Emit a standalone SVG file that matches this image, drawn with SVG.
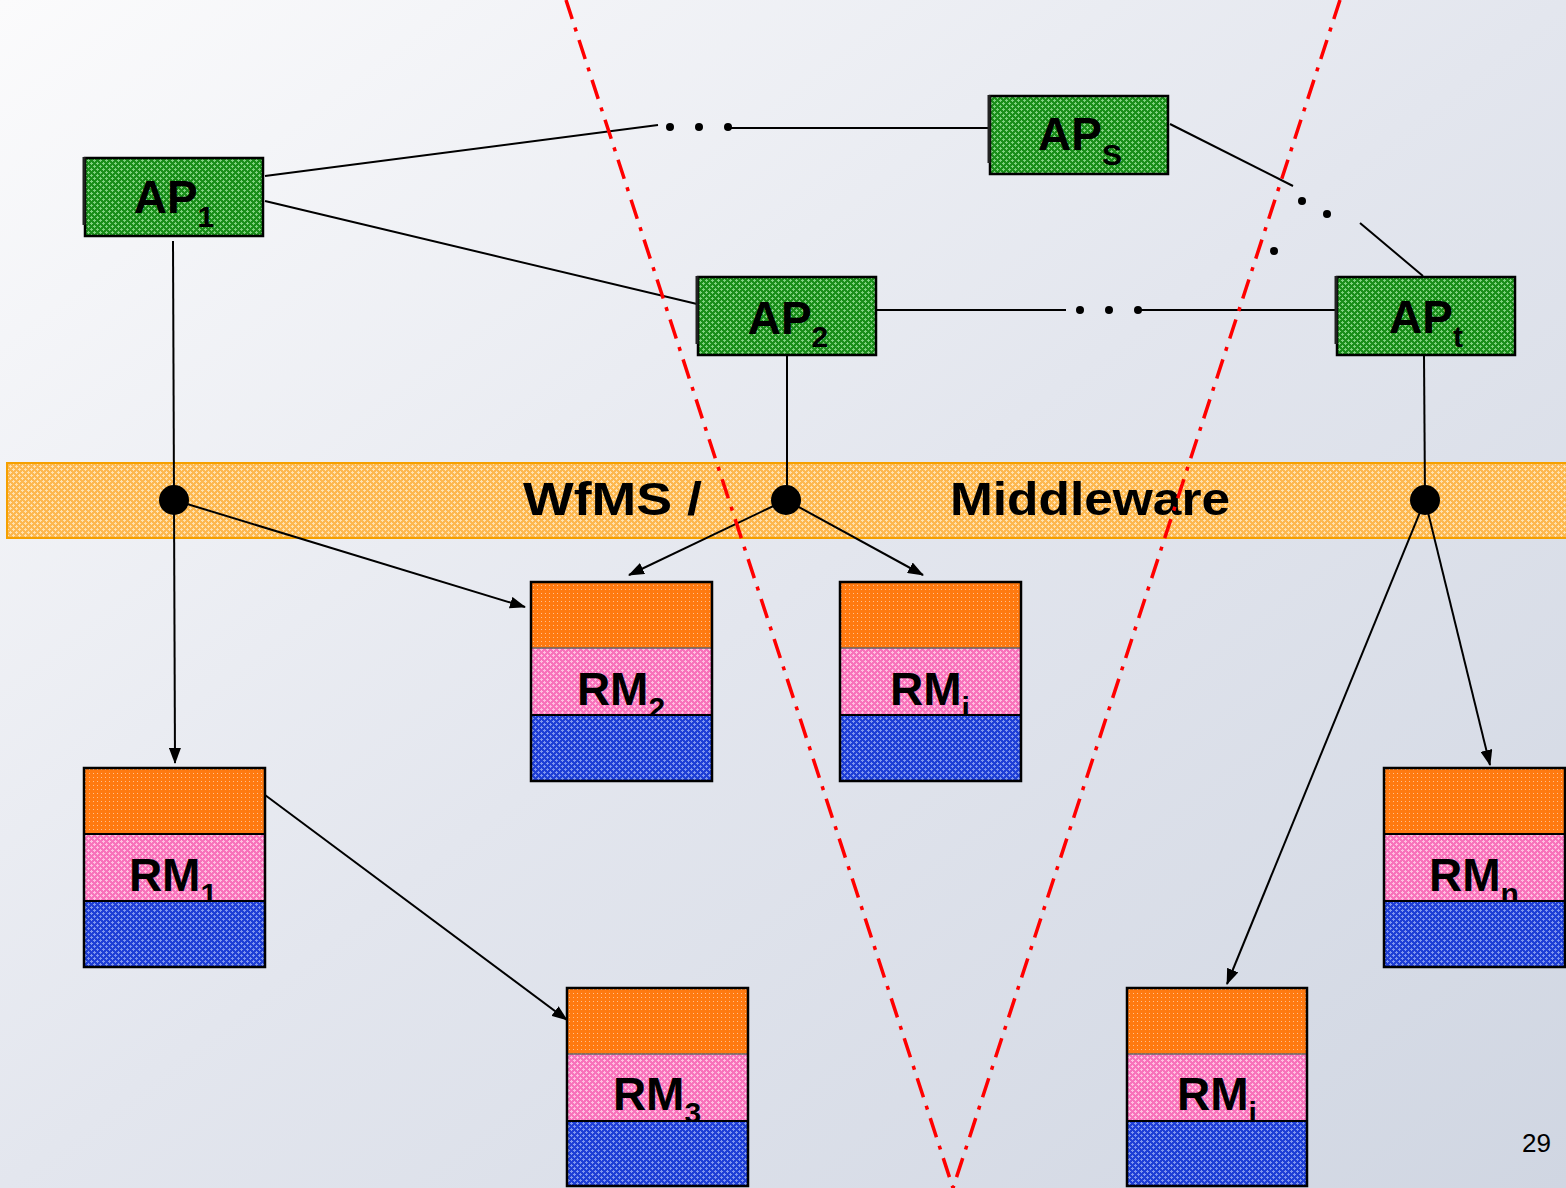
<svg xmlns="http://www.w3.org/2000/svg" width="1566" height="1188" viewBox="0 0 1566 1188">
<style>
.lbl{font-family:"Liberation Sans","Arial",sans-serif;font-weight:bold;font-size:46px;fill:#000}
.sub{font-size:30px}
.box{stroke:#000;stroke-width:2.5}
.ln{stroke:#000;stroke-width:2;fill:none}
.dot{fill:#000}
.red{stroke:#ff0000;stroke-width:3.5;fill:none;stroke-dasharray:20 9 4 9}
</style>
<defs>
<linearGradient id="bg" x1="0" y1="0" x2="1" y2="1">
<stop offset="0" stop-color="#fbfbfc"/>
<stop offset="0.5" stop-color="#e3e6ee"/>
<stop offset="1" stop-color="#d0d6e2"/>
</linearGradient>
<pattern id="pg" width="6" height="6" patternUnits="userSpaceOnUse">
<rect width="6" height="6" fill="#1a8e1a"/>
<path d="M1 0h1v3H1zM0 1h3v1H0zM4 3h1v3H4zM3 4h3v1H3z" fill="#7fd07f"/>
</pattern>
<pattern id="po" width="4" height="4" patternUnits="userSpaceOnUse">
<rect width="4" height="4" fill="#ff7a10"/>
<rect x="1" y="1" width="1" height="1" fill="#ffc090"/>
</pattern>
<pattern id="pp" width="6" height="6" patternUnits="userSpaceOnUse">
<rect width="6" height="6" fill="#f873bb"/>
<path d="M1 0h1v3H1zM0 1h3v1H0zM4 3h1v3H4zM3 4h3v1H3z" fill="#ffc0e0"/>
</pattern>
<pattern id="pb" width="6" height="6" patternUnits="userSpaceOnUse">
<rect width="6" height="6" fill="#1f3fd6"/>
<path d="M1 0h1v3H1zM0 1h3v1H0zM4 3h1v3H4zM3 4h3v1H3z" fill="#8096ee"/>
</pattern>
<pattern id="pm" width="6" height="6" patternUnits="userSpaceOnUse">
<rect width="6" height="6" fill="#fdb850"/>
<path d="M1 0h1v3H1zM0 1h3v1H0zM4 3h1v3H4zM3 4h3v1H3z" fill="#ffe2b0"/>
</pattern>
<marker id="ah" markerWidth="16" markerHeight="12" refX="15" refY="6" orient="auto" markerUnits="userSpaceOnUse">
<path d="M0 0L16 6L0 12z" fill="#000"/>
</marker>
</defs>
<rect width="1566" height="1188" fill="url(#bg)"/>

<g id="middleware">
<rect x="7" y="463" width="1562" height="75" fill="url(#pm)" stroke="#f5a000" stroke-width="2"/>
<text class="lbl" x="523" y="515" font-size="48" textLength="179" lengthAdjust="spacingAndGlyphs">WfMS /</text>
<text class="lbl" x="950" y="515" font-size="48" textLength="280" lengthAdjust="spacingAndGlyphs">Middleware</text>
</g>

<g id="connectors">
<line class="ln" x1="265" y1="176" x2="658" y2="125"/>
<circle class="dot" cx="670" cy="127" r="4"/>
<circle class="dot" cx="699" cy="127" r="4"/>
<circle class="dot" cx="728" cy="127" r="4"/>
<line class="ln" x1="728" y1="128" x2="990" y2="128"/>
<line class="ln" x1="265" y1="201" x2="697" y2="304"/>
<line class="ln" x1="1170" y1="124" x2="1293" y2="186"/>
<circle class="dot" cx="1302" cy="201" r="4"/>
<circle class="dot" cx="1327" cy="214" r="4"/>
<circle class="dot" cx="1274" cy="251" r="4"/>
<line class="ln" x1="1360" y1="223" x2="1423" y2="276"/>
<line class="ln" x1="876" y1="310" x2="1066" y2="310"/>
<circle class="dot" cx="1080" cy="310" r="4"/>
<circle class="dot" cx="1109" cy="310" r="4"/>
<circle class="dot" cx="1138" cy="310" r="4"/>
<line class="ln" x1="1138" y1="310" x2="1336" y2="310"/>
<line class="ln" x1="173" y1="241" x2="174" y2="500"/>
<line class="ln" x1="787" y1="355" x2="787" y2="500"/>
<line class="ln" x1="1424" y1="355" x2="1425" y2="500"/>
<line class="ln" x1="174" y1="500" x2="175" y2="763" marker-end="url(#ah)"/>
<line class="ln" x1="174" y1="500" x2="525" y2="607" marker-end="url(#ah)"/>
<line class="ln" x1="786" y1="500" x2="629" y2="575" marker-end="url(#ah)"/>
<line class="ln" x1="786" y1="500" x2="923" y2="575" marker-end="url(#ah)"/>
<line class="ln" x1="1425" y1="500" x2="1227" y2="984" marker-end="url(#ah)"/>
<line class="ln" x1="1425" y1="500" x2="1490" y2="765" marker-end="url(#ah)"/>
<line class="ln" x1="265" y1="795" x2="567" y2="1020" marker-end="url(#ah)"/>
<circle class="dot" cx="174" cy="500" r="15"/>
<circle class="dot" cx="786" cy="500" r="15"/>
<circle class="dot" cx="1425" cy="500" r="15"/>
</g>

<g id="AP1">
<rect class="box" x="85" y="158" width="178" height="78" fill="url(#pg)"/>
<line x1="84" y1="157" x2="84" y2="225" stroke="#222" stroke-width="3"/>
<text class="lbl" x="174" y="213" text-anchor="middle">AP<tspan class="sub" dy="14">1</tspan></text>
</g>
<g id="APs">
<rect class="box" x="990" y="96" width="178" height="78" fill="url(#pg)"/>
<line x1="989" y1="95" x2="989" y2="163" stroke="#222" stroke-width="3"/>
<text class="lbl" x="1080" y="150" text-anchor="middle">AP<tspan class="sub" dy="15">S</tspan></text>
</g>
<g id="AP2">
<rect class="box" x="698" y="277" width="178" height="78" fill="url(#pg)"/>
<line x1="697" y1="276" x2="697" y2="344" stroke="#222" stroke-width="3"/>
<text class="lbl" x="788" y="334" text-anchor="middle">AP<tspan class="sub" dy="13">2</tspan></text>
</g>
<g id="APt">
<rect class="box" x="1337" y="277" width="178" height="78" fill="url(#pg)"/>
<line x1="1336" y1="276" x2="1336" y2="344" stroke="#222" stroke-width="3"/>
<text class="lbl" x="1426" y="333" text-anchor="middle">AP<tspan class="sub" dy="14">t</tspan></text>
</g>

<g id="RM2">
<rect x="531" y="582" width="181" height="66" fill="url(#po)"/>
<rect x="531" y="648" width="181" height="67" fill="url(#pp)" stroke="#666" stroke-width="1.5"/>
<text class="lbl" x="621" y="705" text-anchor="middle">RM<tspan class="sub" dy="13">2</tspan></text>
<rect x="531" y="715" width="181" height="66" fill="url(#pb)"/>
<rect class="box" x="531" y="582" width="181" height="199" fill="none"/>
<line class="ln" x1="531" y1="715" x2="712" y2="715"/>
</g>
<g id="RMi_top">
<rect x="840" y="582" width="181" height="66" fill="url(#po)"/>
<rect x="840" y="648" width="181" height="67" fill="url(#pp)" stroke="#666" stroke-width="1.5"/>
<text class="lbl" x="930" y="705" text-anchor="middle">RM<tspan class="sub" dy="13">i</tspan></text>
<rect x="840" y="715" width="181" height="66" fill="url(#pb)"/>
<rect class="box" x="840" y="582" width="181" height="199" fill="none"/>
<line class="ln" x1="840" y1="715" x2="1021" y2="715"/>
</g>
<g id="RM1">
<rect x="84" y="768" width="181" height="66" fill="url(#po)"/>
<rect x="84" y="834" width="181" height="67" fill="url(#pp)" stroke="#666" stroke-width="1.5"/>
<text class="lbl" x="173" y="891" text-anchor="middle">RM<tspan class="sub" dy="13">1</tspan></text>
<rect x="84" y="901" width="181" height="66" fill="url(#pb)"/>
<rect class="box" x="84" y="768" width="181" height="199" fill="none"/>
<line class="ln" x1="84" y1="901" x2="265" y2="901"/>
<line class="ln" x1="84" y1="834" x2="265" y2="834"/>
</g>
<g id="RMn">
<rect x="1384" y="768" width="181" height="66" fill="url(#po)"/>
<rect x="1384" y="834" width="181" height="67" fill="url(#pp)" stroke="#666" stroke-width="1.5"/>
<text class="lbl" x="1474" y="891" text-anchor="middle">RM<tspan class="sub" dy="13">n</tspan></text>
<rect x="1384" y="901" width="181" height="66" fill="url(#pb)"/>
<rect class="box" x="1384" y="768" width="181" height="199" fill="none"/>
<line class="ln" x1="1384" y1="901" x2="1565" y2="901"/>
<line class="ln" x1="1384" y1="834" x2="1565" y2="834"/>
</g>
<g id="RM3">
<rect x="567" y="988" width="181" height="66" fill="url(#po)"/>
<rect x="567" y="1054" width="181" height="67" fill="url(#pp)" stroke="#666" stroke-width="1.5"/>
<text class="lbl" x="657" y="1110" text-anchor="middle">RM<tspan class="sub" dy="13">3</tspan></text>
<rect x="567" y="1121" width="181" height="65" fill="url(#pb)"/>
<rect class="box" x="567" y="988" width="181" height="198" fill="none"/>
<line class="ln" x1="567" y1="1121" x2="748" y2="1121"/>
</g>
<g id="RMi_bottom">
<rect x="1127" y="988" width="180" height="66" fill="url(#po)"/>
<rect x="1127" y="1054" width="180" height="67" fill="url(#pp)" stroke="#666" stroke-width="1.5"/>
<text class="lbl" x="1217" y="1110" text-anchor="middle">RM<tspan class="sub" dy="13">i</tspan></text>
<rect x="1127" y="1121" width="180" height="65" fill="url(#pb)"/>
<rect class="box" x="1127" y="988" width="180" height="198" fill="none"/>
<line class="ln" x1="1127" y1="1121" x2="1307" y2="1121"/>
</g>

<g id="boundaries">
<line class="red" x1="566" y1="0" x2="953" y2="1188"/>
<line class="red" x1="1340" y1="0" x2="953" y2="1188"/>
</g>

<text x="1551" y="1152" text-anchor="end" font-family="Liberation Sans, Arial, sans-serif" font-size="26" fill="#000">29</text>
</svg>
